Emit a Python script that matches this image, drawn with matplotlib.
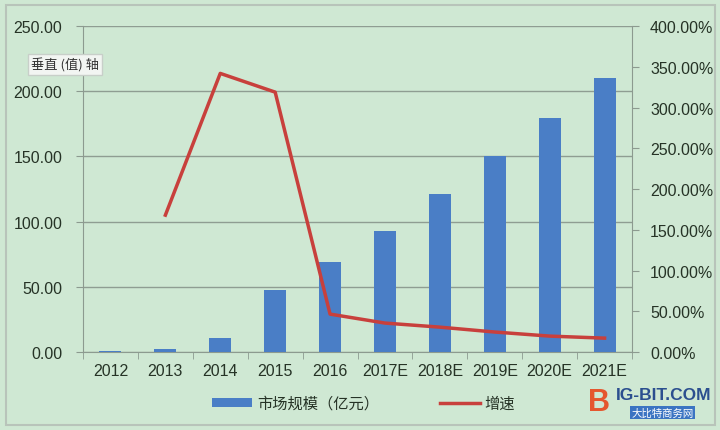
import matplotlib
matplotlib.use("Agg")
import matplotlib.pyplot as plt
from matplotlib.patches import Rectangle
import numpy as np

plt.rcParams['font.family'] = ['Liberation Sans', 'Noto Sans CJK SC', 'DejaVu Sans']

categories = ['2012', '2013', '2014', '2015', '2016', '2017E', '2018E', '2019E', '2020E', '2021E']
market_size = [0.5, 2.5, 11, 47.5, 69, 92.5, 121, 150, 179.5, 210]
growth = [np.nan, 168, 342, 319, 46.5, 35.5, 30.5, 24.5, 19.5, 17]

bg = '#cfe8d3'
bar_color = '#4a7ec6'
line_color = '#c8403c'
axis_gray = '#8c9a8f'
text_color = '#263326'

fig = plt.figure(figsize=(7.2, 4.31), dpi=100, facecolor=bg)
fig.patches.append(Rectangle((0.008, 0.012), 0.985, 0.975, transform=fig.transFigure,
                             fill=False, edgecolor='#b8c4ba', linewidth=1.5))
ax = fig.add_axes([0.1153, 0.181, 0.7625, 0.756])
ax.set_facecolor(bg)
x = np.arange(len(categories))
ax.bar(x, market_size, width=0.4, color=bar_color, zorder=3, label='市场规模（亿元）')
ax.set_xlim(-0.5, len(categories) - 0.5)
ax.set_ylim(0, 250)
ax.set_yticks(np.arange(0, 251, 50))
ax.set_yticklabels([f'{v:.2f}' for v in np.arange(0, 251, 50)])
ax.grid(axis='y', color='#8f9d92', linewidth=1, zorder=0)
ax.set_xticks(x)
ax.set_xticklabels(categories)
ax.set_xticks(np.arange(-0.5, len(categories), 1), minor=True)
ax.tick_params(axis='x', which='major', length=0, pad=8, labelsize=11.5, colors=text_color)
ax.tick_params(axis='x', which='minor', length=5, color=axis_gray, direction='out')
ax.tick_params(axis='y', length=5, color=axis_gray, pad=10, labelsize=11.5, labelcolor=text_color)
for s in ['top', 'right']:
    ax.spines[s].set_visible(False)
ax.spines['left'].set_color(axis_gray)
ax.spines['bottom'].set_color(axis_gray)

ax2 = ax.twinx()
ax2.plot(x, growth, color=line_color, linewidth=2.5, zorder=4, label='增速')
ax2.set_ylim(0, 400)
ax2.set_yticks(np.arange(0, 401, 50))
ax2.set_yticklabels([f'{v:.2f}%' for v in np.arange(0, 401, 50)])
ax2.tick_params(axis='y', length=5, color=axis_gray, pad=8, labelsize=11.5, labelcolor=text_color)
for s in ['top', 'left', 'bottom']:
    ax2.spines[s].set_visible(False)
ax2.spines['right'].set_color(axis_gray)

h1, l1 = ax.get_legend_handles_labels()
h2, l2 = ax2.get_legend_handles_labels()
fig.legend(h1 + h2, l1 + l2, loc='center', bbox_to_anchor=(0.505, 0.062), ncol=2,
           frameon=False, handlelength=2.6, handleheight=0.5, handletextpad=0.3,
           columnspacing=4.0, labelcolor=text_color,
           prop={'family': ['Noto Sans CJK SC', 'DejaVu Sans'], 'size': 11})

fig.text(0.043, 0.848, '垂直 (值) 轴', fontsize=9.5, color='#333333', va='center', ha='left',
         family=['Noto Sans CJK SC', 'DejaVu Sans'],
         bbox=dict(boxstyle='square,pad=0.25', facecolor='#f2f5f2', edgecolor='#c8cfc9'))

# watermark
fig.text(0.855, 0.083, 'IG-BIT.COM', fontsize=12.5, color='#2b4f8f', fontweight='bold', ha='left', va='center')
fig.text(0.92, 0.04, '大比特商务网', fontsize=7.5, color='white', ha='center', va='center',
         family=['Noto Sans CJK SC', 'DejaVu Sans'],
         bbox=dict(boxstyle='square,pad=0.15', facecolor='#3b74c2', edgecolor='none'))
fig.text(0.832, 0.065, 'B', fontsize=22, color='#e5572e', fontweight='bold', ha='center', va='center')

fig.savefig('out.png', dpi=100, facecolor=bg)
